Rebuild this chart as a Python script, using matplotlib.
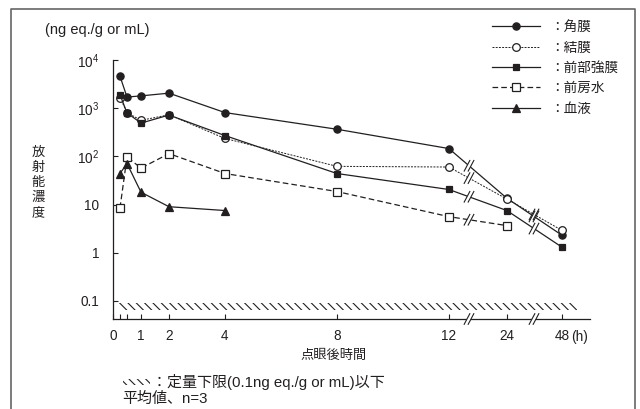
import numpy as np
import matplotlib.pyplot as plt
from matplotlib.patches import Rectangle
from matplotlib.lines import Line2D
from matplotlib.transforms import IdentityTransform

plt.rcParams['font.family'] = ['Liberation Sans', 'Noto Sans CJK JP']
plt.rcParams['mathtext.fontset'] = 'custom'
plt.rcParams['mathtext.rm'] = 'Liberation Sans'
plt.rcParams['hatch.linewidth'] = 0.8

ink = '#231f20'

# 点眼後時間 (h)
hours = [0.25, 0.5, 1, 2, 4, 8, 12, 24, 48]
cornea = [4600, 1700, 1800, 2050, 810, 365, 145, 13.5, 2.3]      # 角膜
conjunctiva = [1650, 810, 560, 730, 235, 62, 60, 13, 2.9]        # 結膜
sclera = [1900, 800, 490, 720, 270, 44, 20.5, 7.5, 1.3]          # 前部強膜
aqueous = [8.5, 97, 57, 114, 44, 18.6, 5.6, 3.65]                # 前房水
blood = [44, 71, 18, 9, 7.5]                                     # 血液
labels = ['：角膜', '：結膜', '：前部強膜', '：前房水', '：血液']
loq = 0.1

xticks = [0, 1, 2, 4, 8, 12, 24, 48]
xtick_labels = ['0', '1', '2', '4', '8', '12', '24', '48']
xminor = [0.25, 0.5]
yticks = [0.1, 1, 10, 100, 1000, 10000]
ytick_labels = ['0.1', '1', '10', r'$\mathregular{10^2}$', r'$\mathregular{10^3}$', r'$\mathregular{10^4}$']

# compressed time axis after 12 h (axis break)
brk_t = [-10, 12, 24, 48, 100]
brk_x = [-10, 12, 14.07, 16.04, 16.04 + 52 * 1.97 / 24]


def fwd(x):
    return np.interp(np.asarray(x, float), brk_t, brk_x)


def inv(x):
    return np.interp(np.asarray(x, float), brk_x, brk_t)


W, H = 640, 409
fig = plt.figure(figsize=(W / 100, H / 100), dpi=100)


def fp(x, y):
    return x / W, 1 - y / H


ax = fig.add_axes([113 / W, 1 - 319 / H, (590 - 113) / W, (319 - 60) / H])
ax.set_xscale('function', functions=(fwd, inv))
ax.set_yscale('log')
ax.set_xlim(0, float(inv(17.04)))
ax.set_ylim(0.042, 1e4)

series = [
    (hours, cornea, 'o', ink, '-', 5.2),
    (hours, conjunctiva, 'o', 'white', (0, (2, 1.3)), 5.5),
    (hours, sclera, 's', ink, '-', 5),
    (hours[:len(aqueous)], aqueous, 's', 'white', (0, (4.5, 2.5)), 5.5),
    (hours[:len(blood)], blood, '^', ink, '-', 5.8),
]
handles = []
for t, v, m, fc, ls, ms in series:
    lw = 0.7 if fc == 'white' and m == 'o' else 0.9
    h, = ax.plot(t, v, marker=m, mfc=fc, mec=ink, mew=0.9, ms=ms,
                 color=ink, ls=ls, lw=lw, clip_on=False)
    handles.append(h)

# 定量下限 band
hatch = '\\' * 4
ax.add_patch(Rectangle((0.2, loq * 0.65), 54.5 - 0.2, loq * 0.25,
                       facecolor='none', edgecolor=ink, lw=0, hatch=hatch))

for s in ['top', 'right']:
    ax.spines[s].set_visible(False)
for s in ['left', 'bottom']:
    ax.spines[s].set_color(ink)
    ax.spines[s].set_linewidth(0.9)

ax.set_xticks(xticks)
ax.set_xticklabels(xtick_labels)
ax.set_xticks(xminor, minor=True)
ax.set_yticks(yticks)
ax.set_yticklabels(ytick_labels)
ax.yaxis.set_minor_locator(plt.NullLocator())
ax.tick_params(axis='both', which='both', direction='in', length=3.5, width=0.8,
               color=ink, labelcolor=ink, labelsize=9.8)
ax.tick_params(axis='x', which='both', pad=7)
ax.tick_params(axis='y', pad=10)

fig.canvas.draw()


def break_mark(px, py):
    ang = np.deg2rad(62)
    dx, dy = np.cos(ang), np.sin(ang)
    fig.add_artist(Line2D([px - 4.5 * dx, px + 4.5 * dx], [py - 4.5 * dy, py + 4.5 * dy],
                          color='white', lw=2.6, transform=IdentityTransform(), zorder=5))
    for off in (-2.0, 2.0):
        fig.add_artist(Line2D([px + off - 6 * dx, px + off + 6 * dx], [py - 6 * dy, py + 6 * dy],
                              color=ink, lw=0.8, transform=IdentityTransform(), zorder=6))


brk_px = [469, 534]
for t, v, *_ in series:
    pts = ax.transData.transform(np.column_stack([t, v]))
    for bx in brk_px:
        for i in range(len(pts) - 1):
            if pts[i, 0] < bx < pts[i + 1, 0]:
                f = (bx - pts[i, 0]) / (pts[i + 1, 0] - pts[i, 0])
                break_mark(bx, pts[i, 1] + f * (pts[i + 1, 1] - pts[i, 1]))
for bx in brk_px:
    break_mark(bx, H - 319)

# legend
fig.legend(handles, labels, loc='upper left', bbox_to_anchor=fp(492, 20),
           frameon=False, handlelength=3.5, handletextpad=0.75, labelspacing=0.47,
           borderaxespad=0, borderpad=0, fontsize=9.8, labelcolor=ink)

# texts
fig.text(*fp(45, 30), '(ng eq./g or mL)', fontsize=10.5, color=ink, va='center')
for i, ch in enumerate('放射能濃度'):
    fig.text(*fp(38, 153 + 15 * i), ch, fontsize=9.5, color=ink, ha='center', va='center')
fig.text(*fp(571, 337), '(h)', fontsize=9.8, color=ink, va='center')
fig.text(*fp(334, 356), '点眼後時間', fontsize=9.5, color=ink, ha='center', va='center')
fig.add_artist(Rectangle(fp(123, 385), 27 / W, 6 / H, transform=fig.transFigure,
                         facecolor='none', edgecolor=ink, lw=0, hatch=hatch))
fig.text(*fp(152, 382), '：定量下限(0.1ng eq./g or mL)以下', fontsize=10.8, color=ink, va='center')
fig.text(*fp(122, 399), '平均値、n=3', fontsize=10.8, color=ink, va='center')

# outer frame
fig.add_artist(Line2D([11 / W, 11 / W, 635 / W, 635 / W], [0, 1 - 9 / H, 1 - 9 / H, 0],
                      transform=fig.transFigure, color='#666666', lw=1.2))

fig.savefig('out.png', dpi=100)
